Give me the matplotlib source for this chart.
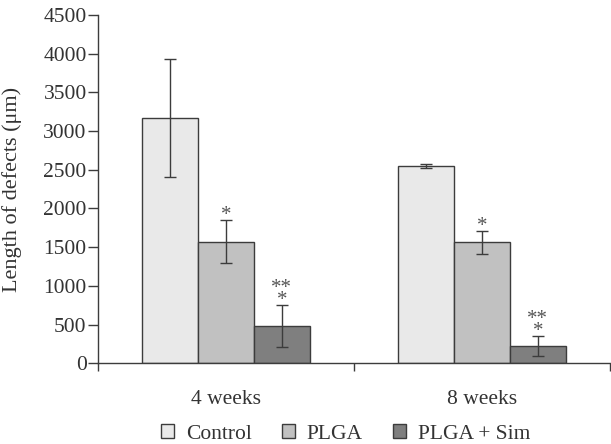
import numpy as np
import matplotlib.pyplot as plt
from matplotlib.ticker import FixedLocator

plt.rcParams['font.family'] = ['Liberation Serif', 'DejaVu Serif']

# data
groups = ['4 weeks', '8 weeks']
series = ['Control', 'PLGA', 'PLGA + Sim']
control = [3170, 2550]
control_err = [765, 30]
plga = [1570, 1565]
plga_err = [275, 150]
sim = [480, 220]
sim_err = [272, 130]

colors = ['#e9e9e9', '#c1c1c1', '#7f7f7f']
edge = '#3c3c3c'
txt = '#333333'

fig = plt.figure(figsize=(6.11, 4.44), dpi=100)
ax = fig.add_axes([0.160, 0.182, 0.838, 0.784])

x = np.arange(len(groups))
w = 0.219
vals = [control, plga, sim]
errs = [control_err, plga_err, sim_err]
for k in range(3):
    ax.bar(x + (k - 1) * w, vals[k], w, color=colors[k], edgecolor=edge, linewidth=1.0,
           yerr=errs[k], error_kw=dict(ecolor=edge, elinewidth=1.0, capsize=4, capthick=1.0),
           label=series[k])

# asterisks
for i in range(len(groups)):
    ax.annotate('*', xy=(x[i], plga[i] + plga_err[i]), xytext=(0, -5),
                textcoords='offset pixels', ha='center', va='bottom', fontsize=15, color='#555555')
    ax.annotate('**\n*', xy=(x[i] + w, sim[i] + sim_err[i]), xytext=(0, -5),
                textcoords='offset pixels', ha='center', va='bottom', fontsize=15,
                color='#555555', linespacing=0.5)

ax.set_xlim(-0.5, 1.5)
ax.set_ylim(0, 4500)
ax.set_yticks(np.arange(0, 4501, 500))
ax.set_xticks(x)
ax.set_xticklabels(groups)
ax.xaxis.set_minor_locator(FixedLocator([-0.5, 0.5, 1.5]))
ax.tick_params(axis='x', which='major', length=0, pad=19, labelsize=15.5, labelcolor=txt)
ax.tick_params(axis='x', which='minor', length=6, width=1.0, color=edge, direction='out')
ax.tick_params(axis='y', length=7, width=1.0, color=edge, labelsize=15.5, pad=1, labelcolor=txt)

for s in ['top', 'right']:
    ax.spines[s].set_visible(False)
for s in ['left', 'bottom']:
    ax.spines[s].set_color(edge)
    ax.spines[s].set_linewidth(1.0)

ax.set_ylabel('Length of defects (μm)', fontsize=16, color=txt, labelpad=15)

ax.legend(loc='upper center', bbox_to_anchor=(0.484, -0.132), ncol=3, frameon=False,
          fontsize=15.5, handlelength=0.6, handleheight=0.6, handletextpad=0.55,
          columnspacing=1.4, labelcolor=txt, borderpad=0.2)

plt.savefig('out.png', dpi=100)
